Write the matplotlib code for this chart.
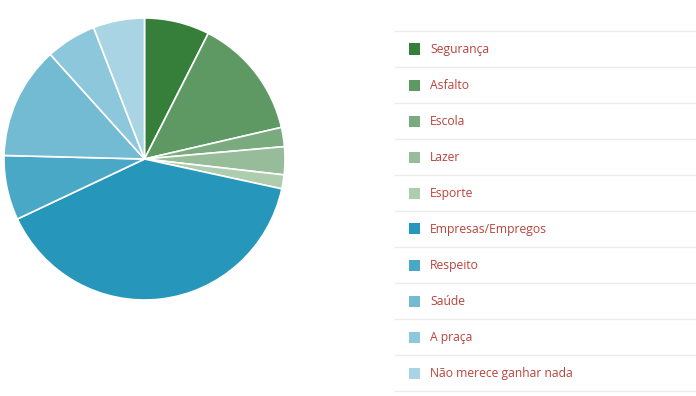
import matplotlib.pyplot as plt
from matplotlib.patches import Rectangle

labels = ['Segurança', 'Asfalto', 'Escola', 'Lazer', 'Esporte',
          'Empresas/Empregos', 'Respeito', 'Saúde', 'A praça', 'Não merece ganhar nada']
values = [7.5, 13.9, 2.2, 3.2, 1.6, 39.6, 7.4, 12.9, 5.8, 5.9]
colors = ['#367f3b', '#5e9964', '#7aab7e', '#97bc99', '#adcdae',
          '#2697ba', '#4aa8c7', '#73bad3', '#8dc7dc', '#a8d4e4']

W, H = 696, 396
fig = plt.figure(figsize=(W / 100, H / 100), dpi=100)
fig.patch.set_facecolor('white')

# pie
ax = fig.add_axes([4 / W, (H - 300) / H, 281 / W, 282 / H])
ax.pie(values, colors=colors, startangle=90, counterclock=False,
       wedgeprops=dict(edgecolor='white', linewidth=1.2), radius=1)
ax.set_xlim(-1.0, 1.0)
ax.set_ylim(-1.0, 1.0)
ax.set_aspect('auto')
ax.axis('off')

# legend
row_h = 36
top = 31
lx0, lx1 = 395, 696
for i, (lab, c) in enumerate(zip(labels, colors)):
    y_line = top + i * row_h
    fig.add_artist(plt.Line2D([lx0 / W, lx1 / W], [1 - y_line / H, 1 - y_line / H],
                              color='#ebebeb', lw=1, transform=fig.transFigure))
    yc = y_line + 18
    fig.add_artist(Rectangle((409 / W, 1 - (yc + 5.5) / H), 11 / W, 11 / H,
                             facecolor=c, edgecolor='none', transform=fig.transFigure))
    fig.text(430 / W, 1 - (yc + 0.5) / H, lab, fontsize=8.7, color='#b8433b',
             family='Open Sans', va='center', ha='left')
y_line = top + len(labels) * row_h
fig.add_artist(plt.Line2D([lx0 / W, lx1 / W], [1 - y_line / H, 1 - y_line / H],
                          color='#ebebeb', lw=1, transform=fig.transFigure))

fig.savefig('out.png', dpi=100)
